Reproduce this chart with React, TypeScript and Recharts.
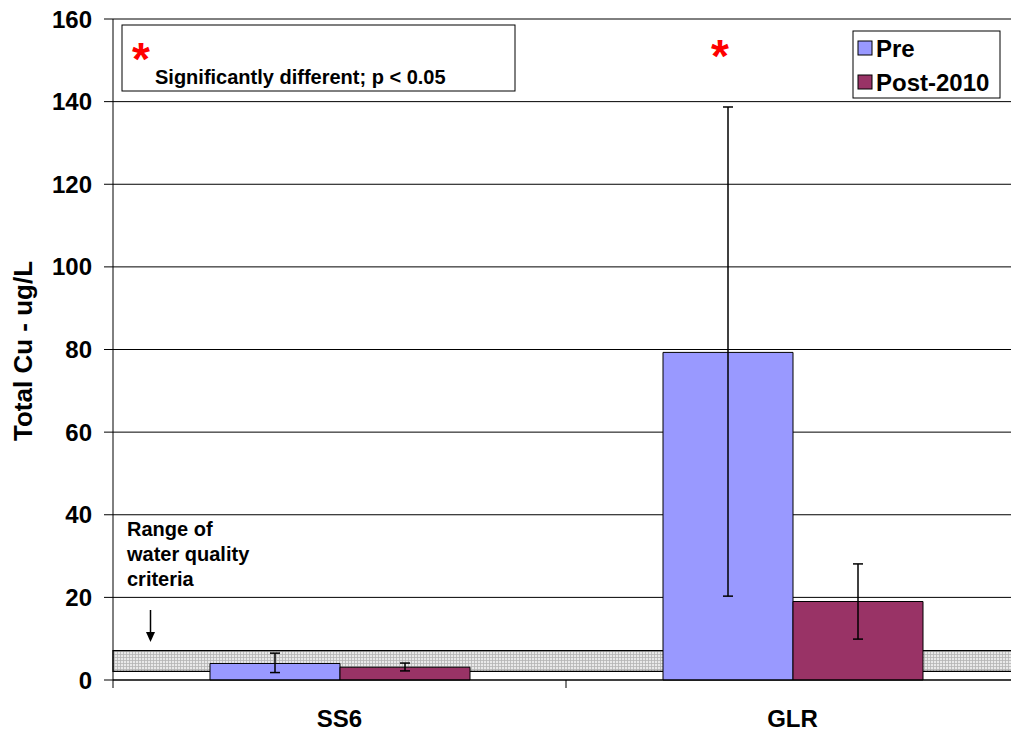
import {
  BarChart, Bar, XAxis, YAxis, CartesianGrid, ErrorBar, ReferenceArea,
} from 'recharts'

const categories = ['SS6', 'GLR']
const preMean = [4.0, 79.3]
const preLow = [1.8, 20.3]
const preHigh = [6.5, 138.7]
const postMean = [3.1, 19.0]
const postLow = [2.2, 9.9]
const postHigh = [4.1, 28.1]
const yTicks = [0, 20, 40, 60, 80, 100, 120, 140, 160]
const criteriaRange = [2.1, 7.1]

const PRE = '#9999ff'
const POST = '#993366'
const FONT = '"Liberation Sans", Arial, sans-serif'

const data = categories.map((cat, i) => ({
  cat,
  pre: preMean[i],
  preErr: [preMean[i] - preLow[i], preHigh[i] - preMean[i]],
  post: postMean[i],
  postErr: [postMean[i] - postLow[i], postHigh[i] - postMean[i]],
}))

// category label at the band centre, tick marks at the band edges (Excel style)
function CatTick({ x, y, payload, index }: any) {
  const half = payload?.offset ?? 0
  const axisY = y - 2
  return (
    <g>
      <line x1={x - half} y1={axisY} x2={x - half} y2={axisY + 8} stroke="#000" />
      {index === categories.length - 1 && (
        <line x1={x + half} y1={axisY} x2={x + half} y2={axisY + 8} stroke="#000" />
      )}
      <text x={x} y={axisY + 47} textAnchor="middle" fontSize={24} fontWeight="bold" fontFamily={FONT} fill="#000">
        {payload.value}
      </text>
    </g>
  )
}

export default function App() {
  return (
    <div style={{ position: 'absolute', left: 0, top: 0, width: 1011, height: 735, overflow: 'hidden', background: '#fff' }}>
      <BarChart
        width={1030}
        height={735}
        data={data}
        margin={{ top: 19, right: 11, bottom: 0, left: 0 }}
        barSize={130}
        barGap={0}
      >
        <defs>
          <pattern id="hatch" width="3" height="3" patternUnits="userSpaceOnUse">
            <rect width="3" height="3" fill="#e2e2e2" />
            <path d="M0 0.5 H3 M0.5 0 V3" stroke="#9a9a9a" strokeWidth="0.8" />
          </pattern>
        </defs>
        <CartesianGrid vertical={false} stroke="#000" strokeWidth={1} />
        <XAxis
          dataKey="cat"
          height={55}
          tickLine={false}
          tickSize={0}
          tickMargin={2}
          axisLine={{ stroke: '#000', strokeWidth: 1 }}
          tick={<CatTick />}
          interval={0}
        />
        <YAxis
          width={113}
          domain={[0, 160]}
          ticks={yTicks}
          interval={0}
          tickSize={9}
          tickMargin={12}
          tickLine={{ stroke: '#000' }}
          axisLine={{ stroke: '#000' }}
          tick={{ fontSize: 24, fontWeight: 'bold', fontFamily: FONT, fill: '#000' }}
        />
        <Bar dataKey="pre" fill={PRE} stroke="#000" strokeWidth={1} isAnimationActive={false}>
          <ErrorBar dataKey="preErr" width={5} stroke="#000" strokeWidth={1.5} direction="y" />
        </Bar>
        <Bar dataKey="post" fill={POST} stroke="#000" strokeWidth={1} isAnimationActive={false}>
          <ErrorBar dataKey="postErr" width={5} stroke="#000" strokeWidth={1.5} direction="y" />
        </Bar>
        <ReferenceArea
          y1={criteriaRange[0]}
          y2={criteriaRange[1]}
          fill="url(#hatch)"
          fillOpacity={0.75}
          stroke="#000"
          strokeWidth={1.2}
          ifOverflow="visible"
        />

        {/* y axis title */}
        <text
          x={32}
          y={351}
          transform="rotate(-90 32 351)"
          textAnchor="middle"
          fontSize={26}
          fontWeight="bold"
          fontFamily={FONT}
        >
          Total Cu - ug/L
        </text>

        {/* significance note */}
        <rect x={122} y={25} width={393} height={66} fill="#fff" stroke="#000" strokeWidth={1} />
        <text x={132} y={75} fontSize={46} fontWeight="bold" fontFamily={FONT} fill="#ff0000">*</text>
        <text x={155} y={84} fontSize={20} fontWeight="bold" fontFamily={FONT}>
          Significantly different; p &lt; 0.05
        </text>
        <text x={711} y={72} fontSize={46} fontWeight="bold" fontFamily={FONT} fill="#ff0000">*</text>

        {/* legend */}
        <rect x={853} y={31} width={147} height={67} fill="#fff" stroke="#000" strokeWidth={1} />
        <rect x={858} y={41} width={14} height={14} fill={PRE} stroke="#000" strokeWidth={1} />
        <text x={876} y={57} fontSize={24} fontWeight="bold" fontFamily={FONT}>Pre</text>
        <rect x={858} y={75} width={14} height={14} fill={POST} stroke="#000" strokeWidth={1} />
        <text x={876} y={91} fontSize={24} fontWeight="bold" fontFamily={FONT}>Post-2010</text>

        {/* criteria annotation */}
        <text fontSize={20} fontWeight="bold" fontFamily={FONT}>
          <tspan x={127} y={536}>Range of</tspan>
          <tspan x={127} y={561}>water quality</tspan>
          <tspan x={127} y={586}>criteria</tspan>
        </text>
        <line x1={150.5} y1={610} x2={150.5} y2={633} stroke="#000" strokeWidth={1.5} />
        <path d="M146 632 L155 632 L150.5 642 Z" fill="#000" />
      </BarChart>
    </div>
  )
}
